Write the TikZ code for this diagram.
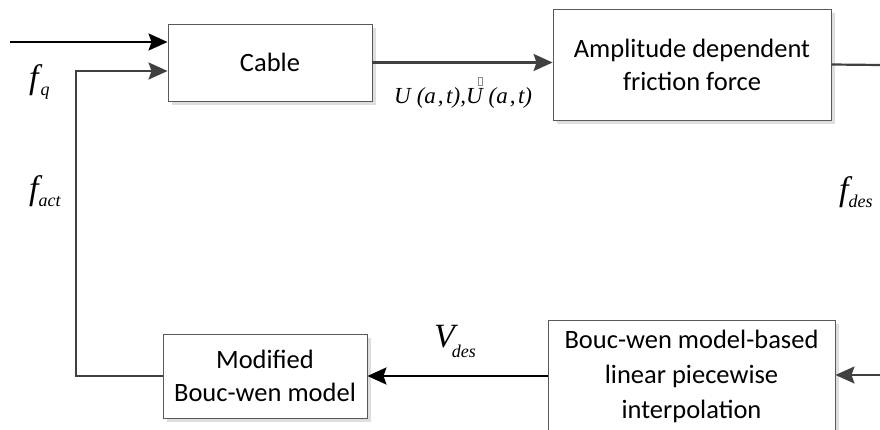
\documentclass[tikz,border=0pt]{standalone}
\usepackage{fontspec}
\setmainfont{Liberation Serif}
\newfontfamily\boxfont{Carlito}
\usetikzlibrary{arrows.meta,shadows}

% italic symbol with a lowered italic subscript
\newcommand{\symsub}[3][7pt]{{\fontsize{34}{34}\selectfont\itshape #2}\raisebox{-#1}{\fontsize{18}{18}\selectfont\itshape #3}}
% small empty glyph box drawn above a letter
\newcommand{\glyphbox}{\rlap{\kern-5pt\raisebox{19pt}{\color{black!45}\fboxrule=0.5pt\fboxsep=0pt\fbox{\rule{4pt}{0pt}\rule{0pt}{7.5pt}}}}}
% argument list with spaced comma
\newcommand{\argat}{(a\kern2pt,\kern2.5pt t)}

\tikzset{
  block/.style={draw=black!65, line width=0.9pt, fill=white, align=center,
    font=\boxfont\fontsize{26.5}{33}\selectfont, inner sep=0pt,
    drop shadow={shadow xshift=4pt, shadow yshift=-4pt, fill=black!13, opacity=1}},
  sigblack/.style={line width=2.4pt, draw=black},
  siggray/.style={line width=2.2pt, draw=black!75},
  tip/.style={-{Stealth[length=19pt, width=17pt, inset=3pt]}},
  lbl/.style={inner sep=0pt, anchor=base west}
}

\begin{document}
\begin{tikzpicture}[x=1pt, y=-1pt]
  \useasboundingbox (0,0) rectangle (880,430);

  % blocks
  \node[block, minimum width=204pt, minimum height=77pt] (cable) at (270,62.5) {Cable};
  \node[block, minimum width=278pt, minimum height=111pt] (amp) at (692,64.5)
    {Amplitude dependent\\friction force};
  \node[block, minimum width=204pt, minimum height=84pt] (mod) at (265,376)
    {Modified\\Bouc-wen model};
  \node[block, minimum width=287pt, minimum height=112pt, font=\boxfont\fontsize{26.5}{35}\selectfont]
    (bouc) at (691.5,376) {Bouc-wen model-based\\linear piecewise\\interpolation};

  % connector end points
  \coordinate (in) at (10,42);
  \coordinate (fb) at (76,71);
  \coordinate (edgetop) at (880,65);
  \coordinate (edgebot) at (880,375);

  % connectors
  \draw[sigblack, tip] (in) -- (in -| cable.west);
  \draw[siggray, tip] (mod.west) -| (fb) -- (fb -| cable.west);
  \draw[siggray, tip] (cable.east) -- (cable.east -| amp.west);
  \draw[siggray] (amp.east) -- (edgetop);
  \draw[siggray, tip] (edgebot) -- (edgebot -| bouc.east);
  \draw[sigblack, tip] (bouc.west) -- (mod.east);

  % signal labels
  \node[lbl] (fq) at (29,89) {\symsub{f}{\kern2pt q}};
  \node[lbl] (fact) at (29,200) {\symsub{f}{act}};
  \node[lbl] (fdes) at (839,201) {\symsub{f}{des}};
  \node[lbl] (vdes) at (434,347) {\symsub[10pt]{V}{\kern-3pt des}};
  \node[lbl, font=\fontsize{23}{23}\selectfont\itshape] (uat) at (394,104)
    {U\kern6pt\argat,U\glyphbox\kern6pt\argat};
\end{tikzpicture}
\end{document}
